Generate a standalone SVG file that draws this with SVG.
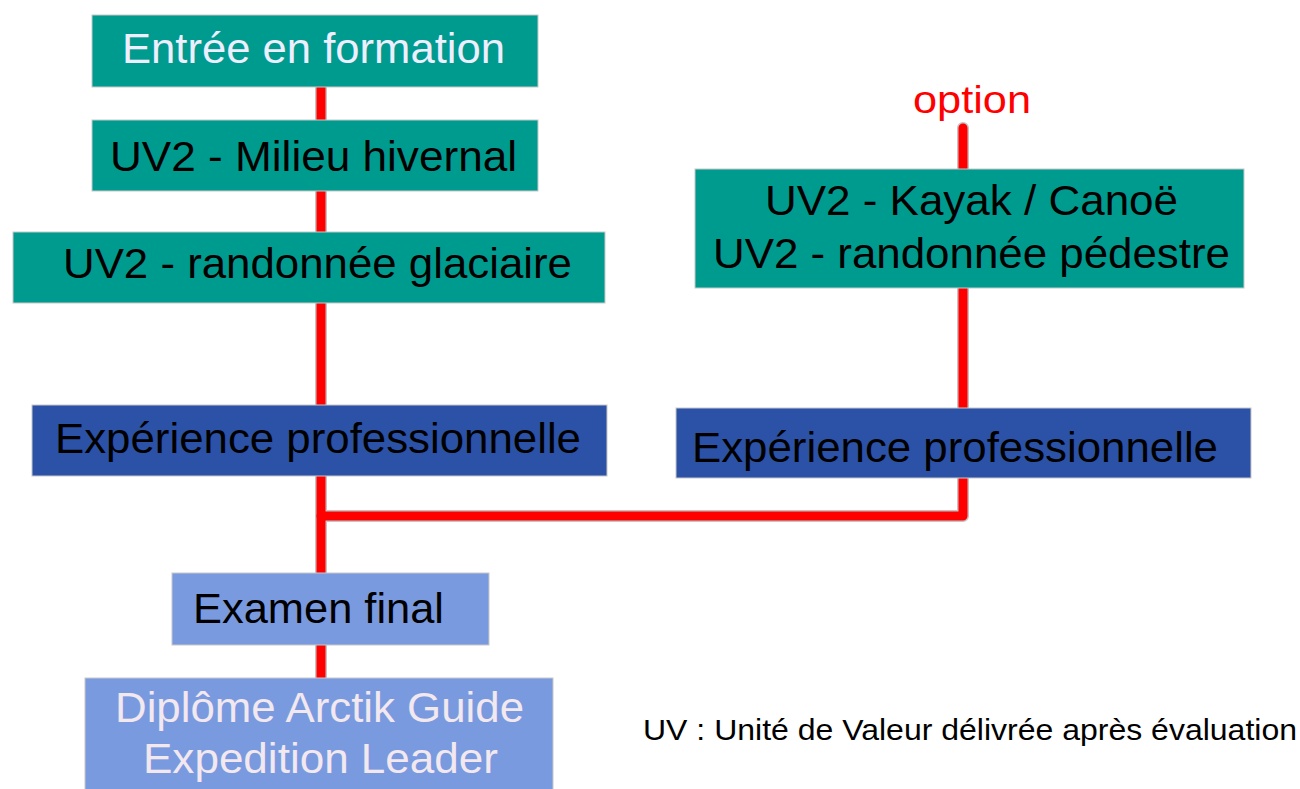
<svg xmlns="http://www.w3.org/2000/svg" width="1300" height="789" viewBox="0 0 1300 789">
<style>
text{font-family:"Liberation Sans",Arial,sans-serif;}
.teal{fill:#009B8F;stroke:#c8c8c8;stroke-width:1;}
.dblue{fill:#2B52A6;stroke:#c8c8c8;stroke-width:1;}
.lblue{fill:#7A9AE0;stroke:#c8c8c8;stroke-width:1;}
.lbl{font-size:43px;fill:#000;}
.halo{fill:none;stroke:#c4c4c4;stroke-width:12;stroke-linejoin:round;stroke-linecap:round;}
.red{fill:none;stroke:#FF0000;stroke-width:9;stroke-linejoin:round;stroke-linecap:round;}
</style>
<rect width="1300" height="789" fill="#ffffff"/>
<g id="connectors">
<path class="halo" d="M321,87 V678"/>
<path class="halo" d="M321,516 H963 V128"/>
<path class="red" d="M321,87 V678"/>
<path class="red" d="M321,516 H963 V128"/>
</g>
<g id="n-entree">
<rect class="teal" x="92" y="15" width="446" height="72"/>
<text x="122" y="63" font-size="43" fill="#EEEEFF" textLength="383" lengthAdjust="spacingAndGlyphs">Entrée en formation</text>
</g>
<g id="n-milieu">
<rect class="teal" x="92" y="120" width="446" height="71"/>
<text class="lbl" x="110" y="171" textLength="407" lengthAdjust="spacingAndGlyphs">UV2 - Milieu hivernal</text>
</g>
<g id="n-glaciaire">
<rect class="teal" x="13" y="232" width="592" height="71"/>
<text class="lbl" x="63" y="278" textLength="509" lengthAdjust="spacingAndGlyphs">UV2 - randonnée glaciaire</text>
</g>
<g id="n-exp-left">
<rect class="dblue" x="32" y="405" width="575" height="71"/>
<text class="lbl" x="55" y="453" textLength="526" lengthAdjust="spacingAndGlyphs">Expérience professionnelle</text>
</g>
<g id="n-option">
<text x="913" y="113" font-size="38" fill="#FF0000" textLength="118" lengthAdjust="spacingAndGlyphs">option</text>
</g>
<g id="n-kayak">
<rect class="teal" x="695" y="169" width="549" height="119"/>
<text class="lbl" x="765" y="215" textLength="413" lengthAdjust="spacingAndGlyphs">UV2 - Kayak / Canoë</text>
<text class="lbl" x="713" y="268" textLength="517" lengthAdjust="spacingAndGlyphs">UV2 - randonnée pédestre</text>
</g>
<g id="n-exp-right">
<rect class="dblue" x="676" y="408" width="575" height="70"/>
<text class="lbl" x="692" y="462" textLength="526" lengthAdjust="spacingAndGlyphs">Expérience professionnelle</text>
</g>
<g id="n-examen">
<rect class="lblue" x="172" y="573" width="317" height="72"/>
<text class="lbl" x="193" y="623" textLength="251" lengthAdjust="spacingAndGlyphs">Examen final</text>
</g>
<g id="n-diplome">
<rect class="lblue" x="85" y="678" width="468" height="115"/>
<text x="115" y="722" font-size="43" fill="#F2E8EE" textLength="409" lengthAdjust="spacingAndGlyphs">Diplôme Arctik Guide</text>
<text x="143" y="773" font-size="43" fill="#F2E8EE" textLength="355" lengthAdjust="spacingAndGlyphs">Expedition Leader</text>
</g>
<g id="note">
<text x="643" y="740" font-size="30" fill="#000" textLength="654" lengthAdjust="spacingAndGlyphs">UV : Unité de Valeur délivrée après évaluation</text>
</g>
</svg>
